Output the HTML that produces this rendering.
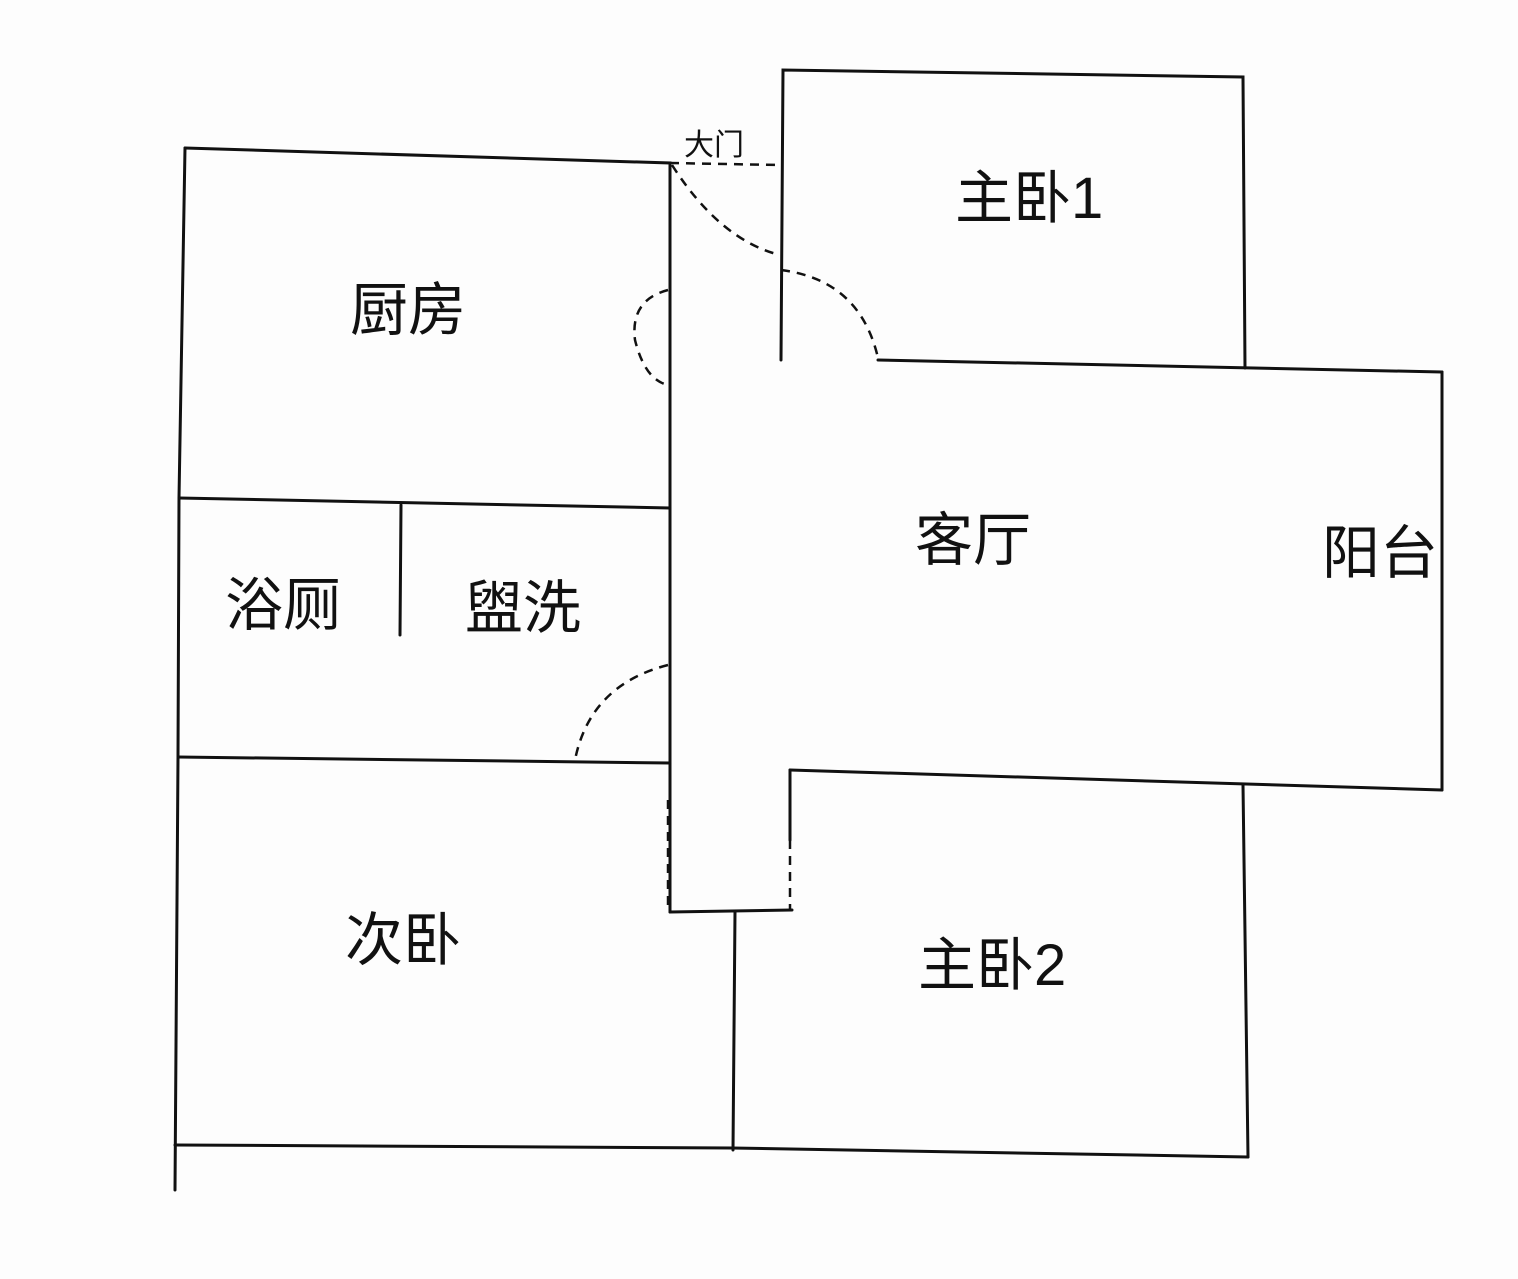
<!DOCTYPE html>
<html><head><meta charset="utf-8"><style>
html,body{margin:0;padding:0;background:#fdfdfd;}
svg{display:block}
text{font-family:"Liberation Sans","Noto Sans CJK SC",sans-serif;fill:#111;}
</style></head><body>
<svg width="1518" height="1279" viewBox="0 0 1518 1279" xmlns="http://www.w3.org/2000/svg">
<g stroke="#111" stroke-width="3" fill="none" stroke-linecap="round">
<!-- kitchen -->
<polyline points="185,148 670,163 670,912"/>
<polyline points="185,148 179,498 178,757 175,1190"/>
<line x1="179" y1="498" x2="670" y2="508"/>
<line x1="401" y1="505" x2="400" y2="635"/>
<line x1="178" y1="757" x2="670" y2="763"/>
<line x1="175" y1="1145" x2="732" y2="1148"/>
<line x1="732" y1="1148" x2="1248" y2="1157"/>
<line x1="735" y1="912" x2="733" y2="1150"/>
<line x1="670" y1="912" x2="792" y2="910"/>
<line x1="790" y1="770" x2="790" y2="840"/>
<line x1="790" y1="770" x2="1442" y2="790"/>
<line x1="1243" y1="785" x2="1248" y2="1157"/>
<line x1="1442" y1="372" x2="1442" y2="790"/>
<line x1="878" y1="360" x2="1442" y2="372"/>
<polyline points="781,360 783,70 1243,77 1245,368"/>
</g>
<g stroke="#111" stroke-width="2.5" fill="none" stroke-dasharray="9,7">
<line x1="670" y1="163" x2="780" y2="165"/>
<path d="M672,165 Q720,240 780,255"/>
<path d="M781,270 Q860,280 878,358"/>
<path d="M668,290 Q630,300 635,340 Q645,380 668,385"/>
<path d="M668,665 Q590,685 575,760"/>
<line x1="790" y1="840" x2="790" y2="910"/>
<line x1="668" y1="800" x2="668" y2="910"/>
</g>
<g font-size="58">
<text x="350" y="330">厨房</text>
<text x="955" y="218">主卧1</text>
<text x="915" y="560">客厅</text>
<text x="1322" y="573">阳台</text>
<text x="225" y="625">浴厕</text>
<text x="465" y="628">盥洗</text>
<text x="345" y="960">次卧</text>
<text x="918" y="985">主卧2</text>
</g>
<text x="684" y="155" font-size="30">大门</text>
</svg>
</body></html>
